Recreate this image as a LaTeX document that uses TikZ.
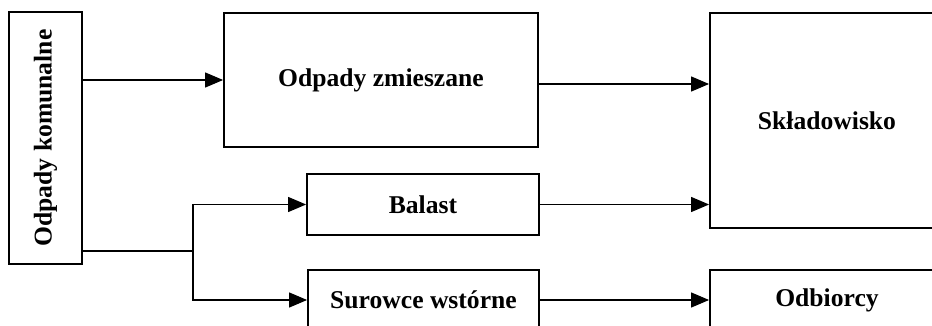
\documentclass[tikz,border=0pt]{standalone}
\usepackage{fontspec}
\setmainfont{Liberation Serif}
\usetikzlibrary{positioning,calc}
\usetikzlibrary{arrows.meta}

\tikzset{
  box/.style={draw, line width=0.9pt, align=center, inner sep=0pt,
              font=\fontsize{12.8}{14}\selectfont\bfseries},
  flow/.style={line width=0.6pt, -{Triangle[length=9pt,width=7.5pt]}},
  link/.style={line width=0.6pt}
}

\begin{document}
\begin{tikzpicture}
   \useasboundingbox (0,0) rectangle (466pt,-163pt);

   \node[box, rotate=90, minimum width=126pt, minimum height=36.5pt]
      (kom) at (22.75pt,-69pt) {Odpady komunalne};
   \node[box, minimum width=157pt, minimum height=67pt]
      (zm) at (190.5pt,-40pt) {Odpady zmieszane};
   \node[box, minimum width=116pt, minimum height=30.5pt]
      (bal) at (211.5pt,-102.25pt) {Balast};
   \node[box, minimum width=115.5pt, minimum height=30pt]
      (sur) at (211.75pt,-150pt) {Surowce wstórne};
   \node[box, minimum width=117pt, minimum height=107.5pt]
      (skl) at (413.5pt,-60.25pt) {Składowisko};
   \node[box, minimum width=117pt, minimum height=30pt]
      (odb) at (413.5pt,-150pt) {Odbiorcy};

   % rozgalezienie
   \coordinate (k1) at ($(kom.south)+(0,-56.5pt)$);
   \coordinate (b0) at (96.5pt,0 |- k1);

   \draw[flow] (kom.south |- zm.west) -- (zm.west);
   \draw[link] (k1) -- (b0);
   \draw[flow] (b0) |- (bal.west);
   \draw[flow] (b0) |- (sur.west);

   \draw[flow] ($(zm.east)+(0,-2pt)$) -- ($(zm.east -| skl.west)+(0,-2pt)$);
   \draw[flow] (bal.east) -- (bal.east -| skl.west);
   \draw[flow] (sur.east) -- (odb.west);
\end{tikzpicture}
\end{document}
